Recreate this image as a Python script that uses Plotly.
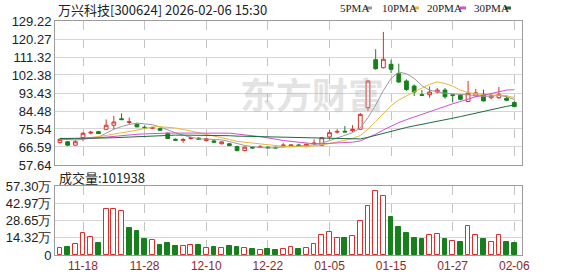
import plotly.graph_objects as go

# ---------------- data ----------------
dates = ["11-13", "11-14", "11-17", "11-18", "11-19", "11-20", "11-21", "11-24", "11-25", "11-26",
         "11-27", "11-28", "12-01", "12-02", "12-03", "12-04", "12-05", "12-08", "12-09", "12-10",
         "12-11", "12-12", "12-15", "12-16", "12-17", "12-18", "12-19", "12-22", "12-23", "12-24",
         "12-25", "12-26", "12-29", "12-30", "12-31", "01-05", "01-06", "01-07", "01-08", "01-09",
         "01-12", "01-13", "01-14", "01-15", "01-16", "01-19", "01-20", "01-21", "01-22", "01-23",
         "01-26", "01-27", "01-28", "01-29", "01-30", "02-02", "02-03", "02-04", "02-05", "02-06"]

opens = [68.8, 69.2, 67.5, 71.2, 73.5, 74.2, 75.4, 77.4, 80.6, 78.8,
         77.9, 76.4, 75.9, 75.7, 73.4, 70.4, 69.9, 70.8, 71.0, 69.8,
         69.6, 68.2, 68.2, 66.8, 64.8, 66.5, 66.4, 66.5, 66.4, 67.1,
         67.0, 67.6, 67.2, 68.3, 67.4, 71.6, 74.0, 74.4, 74.7, 75.4,
         86.1, 110.0, 106.0, 107.7, 103.0, 99.4, 96.9, 92.6, 92.6, 93.9,
         94.9, 92.5, 92.3, 89.2, 92.0, 92.8, 91.1, 91.1, 90.8, 88.7]
highs = [71.0, 69.6, 70.0, 74.0, 74.6, 74.5, 80.3, 82.0, 83.3, 81.2,
         78.6, 77.4, 76.6, 76.2, 73.8, 70.9, 71.0, 71.6, 71.4, 71.0,
         70.0, 69.5, 68.5, 67.2, 66.8, 66.8, 67.5, 66.9, 66.8, 68.5,
         67.9, 68.2, 68.2, 70.4, 71.6, 75.0, 75.5, 77.0, 77.5, 83.5,
         99.6, 115.2, 123.8, 109.9, 108.0, 100.2, 97.7, 94.9, 96.7, 95.9,
         95.9, 92.8, 93.0, 99.4, 95.4, 95.1, 93.2, 96.4, 92.3, 89.3]
lows = [68.3, 67.0, 67.2, 69.5, 72.9, 73.0, 75.0, 75.4, 80.0, 77.8,
        76.4, 75.6, 75.4, 74.7, 70.6, 69.7, 68.7, 70.2, 70.2, 69.3,
        68.8, 67.9, 67.0, 64.4, 64.5, 65.8, 66.1, 66.0, 65.9, 66.5,
        66.6, 67.0, 66.9, 67.3, 67.0, 70.2, 73.2, 73.8, 74.0, 75.0,
        84.5, 105.0, 105.6, 103.3, 98.5, 94.5, 91.9, 92.1, 91.1, 93.3,
        90.6, 88.7, 89.8, 89.0, 91.5, 89.2, 90.3, 90.5, 89.4, 86.4]
closes = [70.4, 67.5, 69.2, 73.4, 73.9, 73.3, 77.4, 79.0, 80.2, 79.1,
          76.6, 76.1, 76.3, 74.9, 70.8, 70.0, 70.3, 71.2, 70.5, 70.7,
          69.0, 69.1, 67.3, 64.8, 66.5, 66.1, 66.6, 66.2, 66.1, 67.5,
          67.6, 67.3, 68.0, 68.5, 71.2, 73.7, 74.3, 74.1, 75.4, 82.8,
          99.4, 105.5, 110.2, 105.2, 98.9, 95.2, 93.9, 92.3, 93.9, 94.9,
          91.6, 92.3, 90.3, 93.3, 93.5, 89.5, 92.3, 92.8, 89.8, 86.7]

# volume in 万 (10k lots)
volumes = [6.1, 6.9, 9.2, 18.1, 15.0, 10.0, 38.3, 38.3, 36.7, 22.8,
           20.0, 13.6, 12.5, 8.3, 10.0, 7.5, 7.5, 8.3, 8.3, 5.8,
           6.9, 5.8, 7.5, 6.4, 5.6, 5.0, 4.2, 5.0, 4.2, 5.0,
           6.4, 5.0, 5.8, 9.0, 16.4, 18.9, 14.0, 14.3, 15.7, 28.2,
           40.8, 53.3, 49.2, 31.9, 23.6, 18.6, 14.4, 13.1, 16.7, 17.5,
           13.3, 11.9, 11.1, 24.2, 16.7, 13.3, 11.1, 16.7, 11.1, 10.1938]
# volume bar colour: 1 = up (red hollow), 0 = down (green)
vol_up = [1, 0, 1, 1, 1, 0, 1, 1, 1, 0,
          0, 0, 1, 0, 0, 0, 1, 1, 0, 1,
          0, 1, 0, 0, 1, 0, 1, 0, 0, 1,
          1, 0, 1, 1, 1, 1, 1, 0, 1, 1,
          1, 1, 1, 0, 0, 0, 0, 0, 1, 1,
          0, 1, 0, 1, 1, 0, 1, 1, 0, 0]

ma5 = [70.6, 70.2, 70.0, 70.4, 70.88, 71.46, 73.44, 75.4, 76.76, 77.8,
       78.46, 78.2, 77.66, 76.6, 74.94, 73.62, 72.46, 71.44, 70.56, 70.54,
       70.34, 70.1, 69.32, 68.18, 67.34, 66.76, 66.26, 66.04, 66.3, 66.5,
       66.8, 66.94, 67.3, 67.74, 68.52, 69.74, 71.14, 72.36, 73.74, 76.06,
       81.2, 87.44, 94.66, 100.62, 103.84, 103.0, 100.68, 97.1, 94.84, 94.04,
       93.32, 93.0, 92.6, 92.48, 92.2, 91.78, 91.78, 92.28, 91.58, 90.22]
ma10 = [71.0, 70.8, 70.6, 70.8, 71.2, 71.6, 72.3, 73.0, 73.6, 74.34,
        74.96, 75.82, 76.53, 76.68, 76.37, 76.04, 75.33, 74.55, 73.58, 72.74,
        71.98, 71.28, 70.38, 69.37, 68.94, 68.49, 68.12, 67.62, 67.18, 66.92,
        66.78, 66.6, 66.67, 67.04, 67.53, 68.29, 69.06, 69.85, 70.78, 72.29,
        75.47, 79.29, 83.51, 87.18, 89.95, 92.1, 94.06, 95.88, 97.73, 98.94,
        98.16, 96.84, 94.85, 93.66, 93.12, 92.55, 92.39, 92.44, 92.03, 91.21]
ma20 = [70.4, 70.5, 70.5, 70.7, 70.9, 71.1, 71.5, 71.9, 72.3, 72.6,
        72.9, 73.1, 73.3, 73.4, 73.5, 73.5, 73.5, 73.5, 73.5, 73.54,
        73.47, 73.55, 73.46, 73.03, 72.66, 72.3, 71.76, 71.12, 70.41, 69.82,
        69.37, 68.93, 68.52, 68.2, 68.22, 68.4, 68.6, 68.75, 68.99, 69.6,
        71.12, 72.94, 75.08, 77.1, 78.72, 80.18, 81.54, 82.85, 84.24, 85.61,
        86.81, 88.06, 89.17, 90.42, 91.54, 92.33, 93.23, 94.16, 94.88, 95.08]
ma30 = [70.8, 70.8, 70.8, 70.9, 71.0, 71.0, 71.1, 71.2, 71.4, 71.6,
        71.8, 72.0, 72.2, 72.3, 72.4, 72.5, 72.5, 72.5, 72.5, 72.5,
        72.4, 72.3, 72.2, 72.0, 71.9, 71.8, 71.6, 71.5, 71.4, 71.3,
        71.2, 71.2, 71.2, 71.0, 70.9, 70.9, 70.8, 70.7, 70.5, 70.6,
        71.4, 72.4, 73.5, 74.5, 75.4, 76.3, 77.1, 77.8, 78.6, 79.4,
        80.1, 80.9, 81.7, 82.6, 83.5, 84.3, 85.2, 86.0, 86.8, 87.5]

price_ticks = [57.64, 66.59, 75.54, 84.48, 93.43, 102.38, 111.32, 120.27, 129.22]
vol_ticks = [0, 14.32, 28.65, 42.97, 57.30]
vol_tick_text = ["0", "14.32万", "28.65万", "42.97万", "57.30万"]
date_ticks = ["11-18", "11-28", "12-10", "12-22", "01-05", "01-15", "01-27", "02-06"]

title_text = "万兴科技[300624] 2026-02-06 15:30"
volume_label = "成交量:101938"
ma_names = ["5PMA", "10PMA", "20PMA", "30PMA"]

# ---------------- styling ----------------
W, H = 578, 276
RED = "#d8302c"
GREEN = "#17801c"
MA_COLORS = ["#9a9a9a", "#e8b83c", "#d24fd2", "#1f6b3e"]
GRID = "#d6d6d6"
VGRID = "#c4c4c4"
BORDER = "#9c9c9c"
TXT = "#222222"


def fx(p):
    return p / W


def fy(p):
    return 1 - p / H


x = list(range(len(dates)))
tick_idx = [dates.index(d) for d in date_ticks]

fig = go.Figure()

fig.add_trace(go.Candlestick(
    x=x, open=opens, high=highs, low=lows, close=closes,
    increasing=dict(line=dict(color=RED, width=1), fillcolor="white"),
    decreasing=dict(line=dict(color=GREEN, width=1), fillcolor=GREEN),
    whiskerwidth=0, showlegend=False, hoverinfo="skip",
    xaxis="x", yaxis="y"))

for name, vals, col in zip(ma_names, [ma5, ma10, ma20, ma30], MA_COLORS):
    fig.add_trace(go.Scatter(x=x, y=vals, mode="lines", name=name,
                             line=dict(color=col, width=1), showlegend=False,
                             hoverinfo="skip", xaxis="x", yaxis="y"))

fig.add_trace(go.Bar(
    x=x, y=volumes, width=0.62,
    marker=dict(color=["white" if u else GREEN for u in vol_up],
                line=dict(color=[RED if u else GREEN for u in vol_up], width=1)),
    showlegend=False, hoverinfo="skip", xaxis="x2", yaxis="y2"))

xdom = [fx(55), fx(522)]
xrange = [-0.64, 60.0]
common_x = dict(domain=xdom, range=xrange, tickvals=tick_idx, showgrid=True,
                griddash="dash", gridcolor=VGRID, gridwidth=1, showline=True,
                mirror=True, linecolor=BORDER, linewidth=1, zeroline=False,
                ticks="", fixedrange=True)
common_y = dict(showgrid=True, gridcolor=GRID, gridwidth=1, showline=True,
                mirror=True, linecolor=BORDER, linewidth=1, zeroline=False,
                ticks="", fixedrange=True,
                tickfont=dict(family="Liberation Sans", size=13, color=TXT))

fig.update_layout(
    width=W, height=H,
    margin=dict(l=0, r=0, t=0, b=0, autoexpand=False),
    paper_bgcolor="white", plot_bgcolor="rgba(0,0,0,0)",
    showlegend=False, bargap=0,
    xaxis=dict(**common_x, anchor="y", showticklabels=False,
               rangeslider=dict(visible=False)),
    yaxis=dict(**common_y, domain=[fy(165), fy(21)], range=[57.64, 129.22],
               tickvals=price_ticks, ticktext=[f"{v:.2f}" for v in price_ticks],
               anchor="x"),
    xaxis2=dict(**common_x, anchor="y2", ticktext=date_ticks,
                tickfont=dict(family="Liberation Sans", size=12, color="#8a2a2a")),
    yaxis2=dict(**common_y, domain=[fy(255), fy(186)], range=[0, 57.30],
                tickvals=vol_ticks, ticktext=vol_tick_text, anchor="x2"),
)

annotations = [
    dict(text=title_text, x=fx(56), y=fy(9), xref="paper", yref="paper",
         xanchor="left", yanchor="middle", showarrow=False,
         font=dict(family="Noto Sans CJK SC", size=13, color=TXT)),
    dict(text=volume_label, x=fx(57), y=fy(177.5), xref="paper", yref="paper",
         xanchor="left", yanchor="middle", showarrow=False,
         font=dict(family="Noto Sans CJK SC", size=13, color=TXT)),
    dict(text="<b>东方财富</b>", x=fx(312), y=fy(93), xref="paper", yref="paper",
         xanchor="center", yanchor="middle", showarrow=False,
         font=dict(family="Noto Sans CJK SC", size=36, color="rgba(175,175,175,0.35)")),
]
shapes = []
legend_x = [338, 380, 425, 472]
dash_x = [366, 413, 460, 505]
for name, lx, dx, col in zip(ma_names, legend_x, dash_x, MA_COLORS):
    annotations.append(dict(text=name, x=fx(lx), y=fy(8), xref="paper", yref="paper",
                            xanchor="left", yanchor="middle", showarrow=False,
                            font=dict(family="Liberation Serif", size=11, color=TXT)))
    shapes.append(dict(type="rect", xref="paper", yref="paper",
                       x0=fx(dx), x1=fx(dx + 6), y0=fy(9.5), y1=fy(6.5),
                       fillcolor=col, line=dict(width=0)))

fig.update_layout(annotations=annotations, shapes=shapes)

fig.write_html("out.html")
